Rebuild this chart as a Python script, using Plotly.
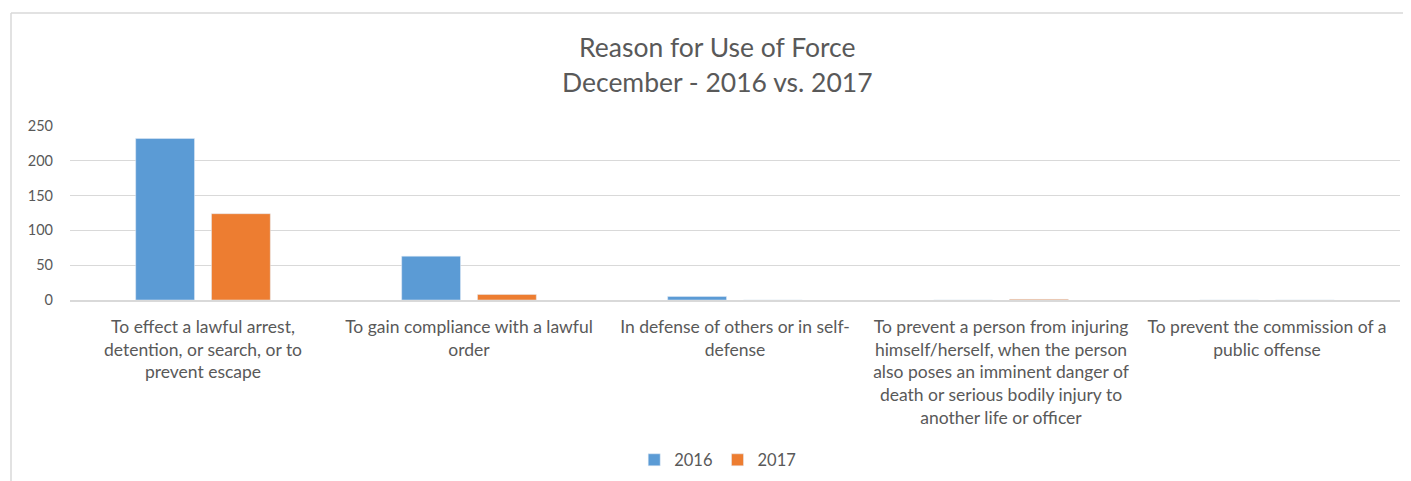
import plotly.graph_objects as go

# reasons for use of force (category labels, wrapped like the original)
reasons = [
    "To effect a lawful arrest,<br>detention, or search, or to<br>prevent escape",
    "To gain compliance with a lawful<br>order",
    "In defense of others or in self-<br>defense",
    "To prevent a person from injuring<br>himself/herself, when the person<br>also poses an imminent danger of<br>death or serious bodily injury to<br>another life or officer",
    "To prevent the commission of a<br>public offense",
]
dec_2016 = [232, 63, 5, 0, 0]
dec_2017 = [124, 8, 0, 1, 0]

title_lines = ["Reason for Use of Force", "December - 2016 vs. 2017"]
ytick_vals = [0, 50, 100, 150, 200, 250]

txt = "#595959"
font_name = "Lato, 'Open Sans', sans-serif"

# plot area in figure pixels (the page adds an 8px body margin)
L, T, W, H = 62, 118, 1330, 174

fig = go.Figure()
fig.add_trace(go.Bar(x=reasons, y=dec_2016, name="2016", marker_color="#5B9BD5"))
fig.add_trace(go.Bar(x=reasons, y=dec_2017, name="2017", marker_color="#ED7D31"))

fig.update_layout(
    width=1411, height=481,
    margin=dict(l=L, r=1411 - L - W, t=T, b=481 - T - H, autoexpand=False),
    paper_bgcolor="white", plot_bgcolor="white",
    font=dict(family=font_name, color=txt, size=15),
    barmode="group", bargap=0.43, bargroupgap=0.224,
    showlegend=True,
    legend=dict(orientation="h", x=0.487, xanchor="center",
                y=-0.92, yanchor="middle", font=dict(size=16.5, color=txt),
                itemwidth=30, tracegroupgap=0),
)

for i, line in enumerate(title_lines):
    fig.add_annotation(text=line, xref="paper", yref="paper",
                       x=0.4865, y=[1.454, 1.253][i], showarrow=False,
                       xanchor="center", yanchor="middle",
                       font=dict(size=26.5, color=txt, family=font_name))

fig.update_yaxes(range=[0, 250], tickvals=ytick_vals, showgrid=True,
                 gridcolor="#D9D9D9", gridwidth=1, zeroline=False,
                 showline=False, ticklabelstandoff=16,
                 tickfont=dict(size=14.5, color=txt))
fig.update_xaxes(showline=True, linecolor="#D9D9D9", linewidth=1.5,
                 ticks="", tickangle=0, ticklabelstandoff=10,
                 tickfont=dict(size=17.5, color=txt))

# outer chart frame (top and left edges visible)
fx = (3 - L) / W
fy = (T + H - 5) / H
fig.add_shape(type="line", xref="paper", yref="paper",
              x0=fx, x1=(1411 - L) / W, y0=fy, y1=fy,
              line=dict(color="#D9D9D9", width=1.5))
fig.add_shape(type="line", xref="paper", yref="paper",
              x0=fx, x1=fx, y0=fy, y1=(T + H - 481) / H,
              line=dict(color="#D9D9D9", width=1.5))

fig.write_html("out.html")
